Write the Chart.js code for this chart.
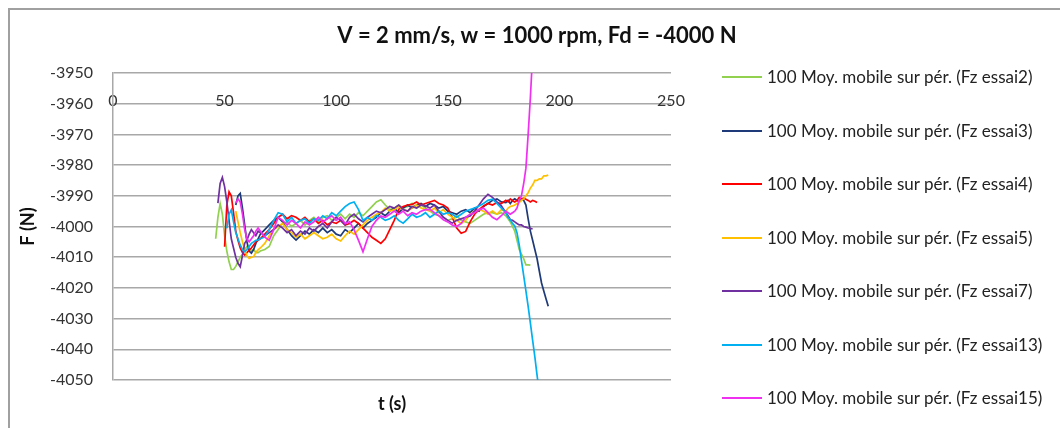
<!DOCTYPE html>
<html><head><meta charset="utf-8">
<script src="https://cdn.jsdelivr.net/npm/chart.js@4.4.1/dist/chart.umd.min.js"></script>
<style>
html,body{margin:0;padding:0;background:#fff;}
#wrap{position:relative;width:1060px;height:428px;overflow:hidden;}
#frame{position:absolute;left:8px;top:8px;width:1200px;height:600px;border-left:2px solid #a0a0a0;border-top:2px solid #a0a0a0;box-sizing:border-box;}
canvas{position:absolute;left:0;top:0;}
#legend{position:absolute;left:722px;top:0;font-family:Lato,sans-serif;font-size:17px;color:#222;}
.item{position:absolute;left:0;white-space:nowrap;height:20px;width:335px;}
.swatch{position:absolute;left:0;top:9px;width:40px;height:2px;}
.label{position:absolute;left:45px;top:0;line-height:20px;}
</style></head>
<body>
<div id="wrap">
<div id="frame"></div>
<canvas id="c" width="1060" height="428"></canvas>
<div id="legend"></div>
</div>
<script>
const chartTitle = 'V = 2 mm/s, w = 1000 rpm, Fd = -4000 N';
const xTitle = 't (s)';
const yTitle = 'F (N)';
const seriesNames = [
  '100 Moy. mobile sur pér. (Fz essai2)',
  '100 Moy. mobile sur pér. (Fz essai3)',
  '100 Moy. mobile sur pér. (Fz essai4)',
  '100 Moy. mobile sur pér. (Fz essai5)',
  '100 Moy. mobile sur pér. (Fz essai7)',
  '100 Moy. mobile sur pér. (Fz essai13)',
  '100 Moy. mobile sur pér. (Fz essai15)'
];
const seriesColors = ['#92D050','#1F3A78','#FF0000','#FFC000','#7030A0','#00B0F0','#F030F0'];
const xTicks = [0,50,100,150,200,250];
const yTicks = [-4050,-4040,-4030,-4020,-4010,-4000,-3990,-3980,-3970,-3960,-3950];

const time = [46,47,48,49,50,51,52,53,54,55,56,57,58,59,60,61,62,63,64,65,66,
  68,70,72,74,76,78,80,82,84,86,88,90,92,94,96,98,100,102,104,106,108,110,112,114,116,118,120,122,124,126,
  128,130,132,134,136,138,140,142,144,146,148,150,152,154,156,158,160,162,164,166,168,170,172,174,176,
  177,178,179,180,181,182,183,184,185,186,187,188,189,190,191,192,193,194,195,196];

const essai2 = [-4004,-3997,-3992.5,-3996,-4003,-4008,-4011.5,-4014,-4014,-4013,-4011.5,-4010,-4009,-4007.5,-4006.5,-4007,-4008,-4007.5,-4008.5,-4008.5,-4008,
  -4007.5,-4006.5,-4003,-4001,-3999,-3998.5,-4000,-3999,-3998,-3999.5,
  -3998,-3997,-3998.5,-3997,-3996.5,-3998,-3997,-3996,-3997.5,-3996,
  -3997,-3995.5,-3996.5,-3995,-3993.5,-3992,-3991.3,-3993,-3994.5,-3994,
  -3993,-3994,-3993.5,-3992.5,-3994,-3993,-3994,-3995,-3996,-3996.5,
  -3997,-3998,-3997.5,-3996.5,-3998,-3998.5,-3999,-3998,-3997,-3996,
  -3995.5,-3995.5,-3996,-3995.5,-3996.5,
  -3997.5,-3998.5,-4000,-4001.5,-4004.5,-4007.5,-4009,-4010.5,-4012.5,-4012.5,-4012.6,null,null,null,null,null,null,null,null,null];
const essai3 = [null,null,null,null,null,null,null,null,null,-3993,-3990,-3989.2,-3994,-3999.5,-4005,-4008,-4008.7,-4007.5,-4005.5,-4004,-4002.5,
  -4001,-3999.5,-3998,-3997,-3998.5,-4001,-4003,-4004.4,-4003,-4001.5,
  -4002.5,-4001,-4002,-4000.5,-4002,-4001,-4002.5,-4003,-4001,-4002,
  -4000.5,-3999,-4000.5,-3999,-3998,-3997,-3995.5,-3996.5,-3995,-3994,
  -3995.5,-3994,-3993,-3994,-3993,-3992.5,-3993.5,-3992.5,-3993,-3994,
  -3993.5,-3995,-3995.5,-3996,-3995,-3994.5,-3995.5,-3994,-3995,-3993.5,
  -3992.5,-3991.5,-3991,-3992,-3992.2,
  -3991.5,-3992.5,-3991.5,-3991,-3991.5,-3992,-3991,-3991.5,-3993,-3997.5,-4001.5,-4004.5,-4007.5,-4010.5,-4014.5,-4018.4,-4021,-4023.5,-4026,null];
const essai4 = [null,null,null,null,-4006.6,-3993,-3988.7,-3990,-3995.5,-4001.5,-4004.5,-4007,-4008.5,-4009.3,-4008.5,-4007.7,-4007,-4006,-4005,-4004.5,-4004,
  -4002.5,-4001,-3999,-3997,-3996,-3997.5,-3996.5,-3997,-3998,-3997,
  -3998.5,-3997.5,-3999,-3998,-3999.5,-3998.5,-3999,-3998,-3999.5,-3999,
  -3998,-3999,-4000.5,-4002,-4003.5,-4004.5,-4005.5,-4004,-4001,-3998,
  -3994.4,-3993.5,-3993,-3992.8,-3992,-3993,-3992.5,-3992,-3991.5,-3992.5,
  -3993,-3994,-3997,-4000.5,-4002.2,-4001.6,-3998.5,-3996,-3994.5,-3993.3,
  -3992.5,-3993,-3992.2,-3992.5,-3991.5,
  -3992,-3991,-3991.6,-3992,-3991.5,-3990.5,-3991,-3990.8,-3991.1,-3991.5,-3992,-3991.5,-3991.8,-3992.2,null,null,null,null,null,null];
const essai5 = [null,null,null,null,null,null,null,null,null,-3995,-3998.5,-4002,-4005,-4007.7,-4009.5,-4010.4,-4010,-4009.8,-4008.5,-4007.6,-4007,
  -4005.5,-4003,-4001,-4000,-3999,-4001,-4002,-4003.5,-4002.5,-4004,
  -4003,-4002,-4003,-4004,-4003.5,-4002.5,-4004,-4004.7,-4003,-4001.5,
  -4002.5,-4001,-3999.5,-3998,-3997,-3996,-3995.5,-3994,-3995,-3994.5,
  -3993.5,-3994.5,-3995,-3994,-3993,-3994,-3994.5,-3995,-3994,-3995.5,
  -3994.5,-3996,-3997,-3998,-3999,-3998,-3996,-3995,-3994.4,-3995,
  -3996,-3995,-3996,-3994.5,-3995,
  -3994,-3993.5,-3993.3,-3993,-3992.5,-3992.2,-3991.5,-3991,-3990,-3989,-3987.5,-3986.5,-3985,-3985,-3984.5,-3984.5,-3983.5,-3983.5,-3983.2,null];
const essai7 = [null,-3992.4,-3986,-3984,-3987,-3992,-3998,-4004,-4007,-4010,-4012,-4013.1,-4009.5,-4005.5,-4004.4,-4002.5,-4001,-4002,-4003,-4001.5,-4002,
  -4003,-4002,-4001,-3999.5,-4000.5,-4002,-4001,-4003,-4001.5,-4002.5,
  -4000.5,-4001.5,-4000,-3999,-4000.5,-3998.5,-3997,-3998,-3999.5,-3997,
  -3996,-3997.5,-3998.5,-3997,-3996,-3995,-3995.5,-3994.5,-3993.5,-3994,
  -3993,-3994.5,-3995,-3993.5,-3994,-3993,-3993.3,-3994,-3993,-3995,
  -3997,-3998,-3998.9,-3998,-3997.5,-3997,-3996.6,-3995,-3993,-3991,
  -3989.5,-3990.5,-3992,-3993.3,-3995.5,
  -3996.5,-3997.8,-3998,-3998.5,-3999,-3999.5,-3999.5,-4000,-4000.2,-4000.5,-4000.6,-4000.8,null,null,null,null,null,null,null,null];
const essai13 = [null,null,null,null,null,-4000.6,-3996,-3994.6,-3998.5,-4002,-4004,-4006,-4007.5,-4008.2,-4007.5,-4006.5,-4005.5,-4005,-4004.5,-4004.4,-4004,
  -4003.4,-4001,-3998,-3995.5,-3996,-3998.5,-3997,-3999,-3998,-3997.5,
  -3999,-3997.5,-3998,-3996.5,-3997.5,-3995.5,-3996.5,-3995,-3993.5,-3992.5,
  -3992,-3994.5,-3998,-3997,-3998,-3996.5,-3997,-3998,-3997.5,-3996.5,
  -3998,-3998.9,-3997.5,-3996,-3997,-3996.5,-3995.5,-3997,-3996,-3995,
  -3996,-3995.5,-3996,-3997,-3996,-3995,-3994.5,-3994,-3993.3,-3992.5,
  -3991.5,-3991.1,-3992.5,-3994,-3995.5,
  -3997,-3997.8,-3999,-3999.8,-4002,-4006,-4011,-4016,-4021,-4026,-4031.5,-4037,-4042.5,-4048.5,-4054,null,null,null,null,null];
const essai15 = [null,null,null,null,null,null,null,null,null,-3992.4,-3991,-3992,-3996,-4001,-4004,-4005,-4004,-4003,-4001.5,-4000.5,-4001.5,
  -4003.5,-4004.5,-4001,-3997,-3998,-3999.5,-3998,-3999,-4000.5,-3998.5,
  -3999.5,-3998.5,-3997,-3998.5,-3997.5,-3996.5,-3998,-3997,-3999,-3998.5,
  -4001,-4004.5,-4008.2,-4004,-4000,-3998,-3996.6,-3997,-3996,-3995,
  -3996,-3995,-3996.5,-3995.5,-3996,-3995,-3994.5,-3994.4,-3995.5,-3996.5,
  -3997.8,-3998.5,-3999.5,-4000,-3999,-3997,-3996,-3995.5,-3994.5,-3994,
  -3995.5,-3997,-3997.8,-3996.5,-3995,
  -3995.5,-3996,-3995.5,-3995,-3994,-3991.5,-3990,-3986,-3981,-3970,-3958,-3944,null,null,null,null,null,null,null,null];

const seriesValues = [essai2, essai3, essai4, essai5, essai7, essai13, essai15];

const FONT = 'Lato';
const datasets = seriesValues.map((vals, i) => ({
  label: seriesNames[i],
  data: time.map((t, k) => ({x: t, y: vals[k]})).filter(p => p.y !== null),
  borderColor: seriesColors[i],
  backgroundColor: seriesColors[i],
  borderWidth: 1.7,
  pointRadius: 0,
  tension: 0,
  fill: false,
  order: seriesValues.length - i
}));

new Chart(document.getElementById('c'), {
  type: 'line',
  data: { datasets },
  options: {
    responsive: false,
    animation: false,
    devicePixelRatio: 1,
    layout: { padding: { left: 14, right: 0, top: 0, bottom: 0 } },
    plugins: {
      legend: { display: false },
      tooltip: { enabled: false },
      title: {
        display: true, text: chartTitle, color: '#111',
        font: { family: FONT, size: 22, weight: 'bold' },
        padding: { top: 23, bottom: 23.6 }
      }
    },
    scales: {
      x: {
        type: 'linear', min: 0, max: 250,
        position: { y: -3960 },
        afterBuildTicks: s => { s.ticks = xTicks.map(v => ({ value: v })); },
        ticks: { autoSkip: false, maxRotation: 0, padding: -12, color: '#333',
          font: { family: FONT, size: 16 }, callback: v => String(v) },
        grid: { display: false, drawTicks: false },
        border: { display: false }
      },
      x2: {
        type: 'linear', min: 0, max: 250, position: 'bottom',
        ticks: { display: false },
        grid: { display: false, drawTicks: false },
        border: { display: false },
        title: { display: true, text: xTitle, color: '#111',
          font: { family: FONT, size: 18, weight: 'bold' }, padding: { top: 0, bottom: 13 } },
        afterFit: s => { s.height = 48; }
      },
      y: {
        type: 'linear', min: -4050, max: -3950, position: 'left',
        afterBuildTicks: s => { s.ticks = yTicks.map(v => ({ value: v })); },
        ticks: { padding: 20, color: '#333', font: { family: FONT, size: 16 },
          callback: v => String(v) },
        grid: { color: '#a8a8a8', lineWidth: 1.5, drawTicks: false },
        border: { display: true, color: '#a8a8a8', width: 1.5 },
        title: { display: true, text: yTitle, color: '#111',
          font: { family: FONT, size: 18, weight: 'bold' }, padding: { top: 3, bottom: 0 } },
        afterFit: s => { s.width = 99; }
      },
      yR: {
        type: 'linear', min: -4050, max: -3950, position: 'right',
        ticks: { display: false },
        grid: { display: false, drawTicks: false },
        border: { display: false },
        afterFit: s => { s.width = 389; }
      }
    }
  }
});

const legend = document.getElementById('legend');
seriesNames.forEach((name, i) => {
  const item = document.createElement('div');
  item.className = 'item';
  item.style.top = (77 + 53.5 * i - 10) + 'px';
  const sw = document.createElement('div');
  sw.className = 'swatch';
  sw.style.background = seriesColors[i];
  const lb = document.createElement('div');
  lb.className = 'label';
  lb.textContent = name;
  item.appendChild(sw); item.appendChild(lb);
  legend.appendChild(item);
});
</script>
</body></html>
